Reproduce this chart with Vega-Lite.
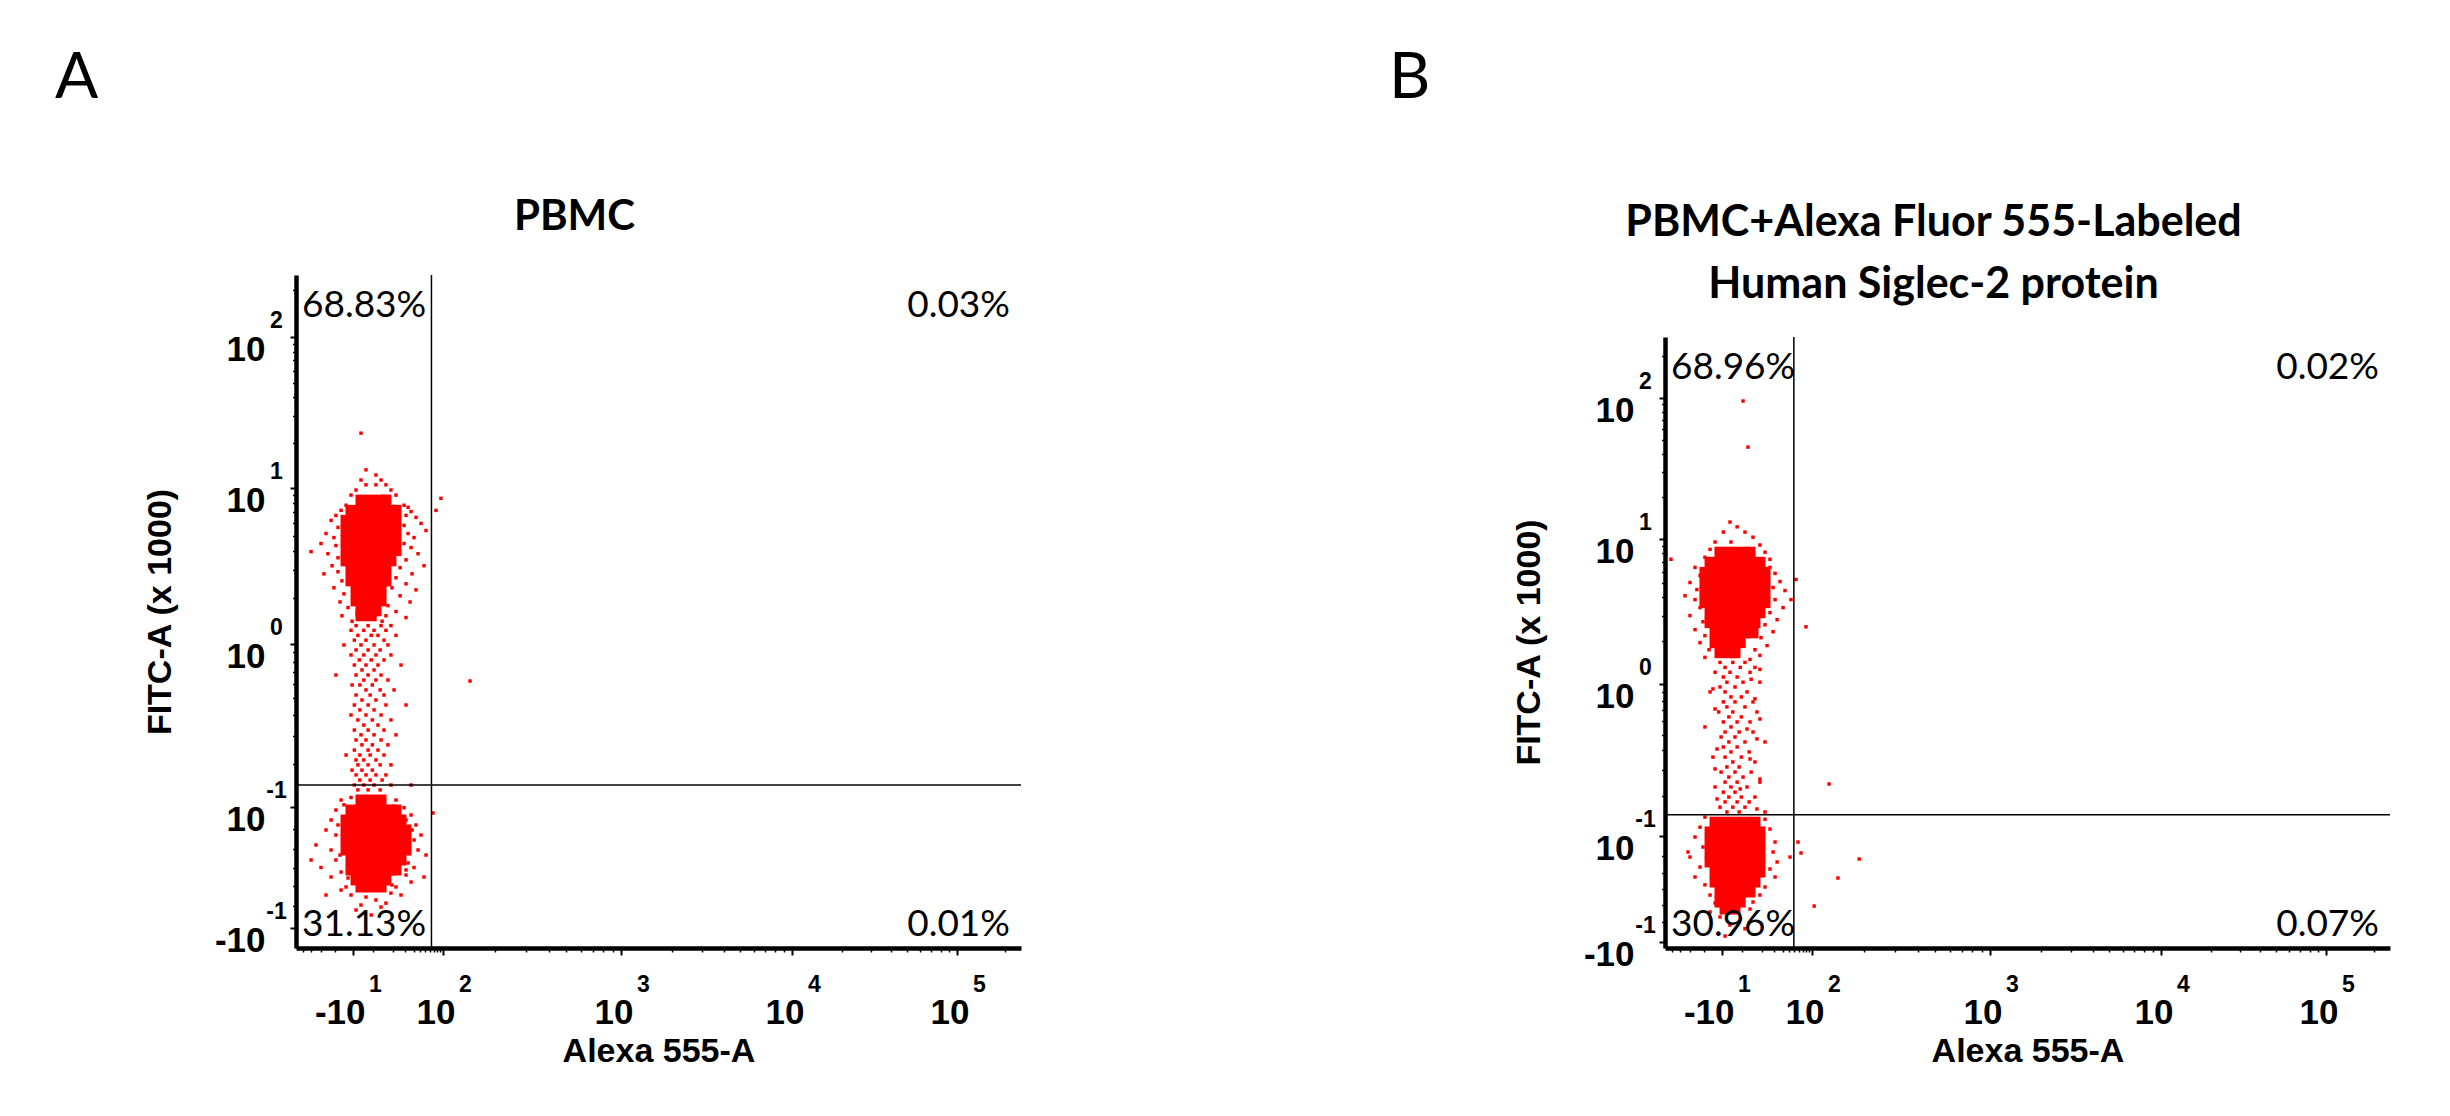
{
  "$schema": "https://vega.github.io/schema/vega-lite/v6.json",
  "description": "Flow cytometry dot plots of PBMC, FITC-A against Alexa 555-A, with quadrant gates and quadrant percentages.",
  "background": "white",
  "padding": {"left": 55, "top": 47, "right": 5, "bottom": 5},
  "spacing": 367,
  "config": {"view": {"stroke": null}, "axis": {"grid": false}},
  "datasets": {
    "coreA": [
      {"alexa":-5.2,"fitc":8.38},{"alexa":-0.7,"fitc":8.38},{"alexa":3.1,"fitc":8.38},{"alexa":5.5,"fitc":8.38},
      {"alexa":-10.9,"fitc":7.22},{"alexa":-5.2,"fitc":7.22},{"alexa":-0.7,"fitc":7.22},{"alexa":3.1,"fitc":7.22},{"alexa":8.4,"fitc":7.22},{"alexa":11.9,"fitc":7.22},
      {"alexa":-13.3,"fitc":6.24},{"alexa":-8,"fitc":6.24},{"alexa":-2.8,"fitc":6.24},{"alexa":1,"fitc":6.24},{"alexa":5.5,"fitc":6.24},{"alexa":11.9,"fitc":6.24},
      {"alexa":-13.3,"fitc":5.38},{"alexa":-8,"fitc":5.38},{"alexa":-2.8,"fitc":5.38},{"alexa":1,"fitc":5.38},{"alexa":5.5,"fitc":5.38},{"alexa":11.9,"fitc":5.38},
      {"alexa":-13.3,"fitc":4.65},{"alexa":-8,"fitc":4.65},{"alexa":-2.8,"fitc":4.65},{"alexa":1,"fitc":4.65},{"alexa":5.5,"fitc":4.65},{"alexa":11.9,"fitc":4.65},
      {"alexa":-13.3,"fitc":4.01},{"alexa":-8,"fitc":4.01},{"alexa":-2.8,"fitc":4.01},{"alexa":1,"fitc":4.01},{"alexa":5.5,"fitc":4.01},{"alexa":11.9,"fitc":4.01},
      {"alexa":-13.3,"fitc":3.45},{"alexa":-8,"fitc":3.45},{"alexa":-2.8,"fitc":3.45},{"alexa":1,"fitc":3.45},{"alexa":5.5,"fitc":3.45},{"alexa":8.4,"fitc":3.45},
      {"alexa":-10.9,"fitc":2.98},{"alexa":-5.2,"fitc":2.98},{"alexa":-0.7,"fitc":2.98},{"alexa":3.1,"fitc":2.98},{"alexa":5.5,"fitc":2.98},
      {"alexa":-10.9,"fitc":2.57},{"alexa":-5.2,"fitc":2.57},{"alexa":-0.7,"fitc":2.57},{"alexa":3.1,"fitc":2.57},{"alexa":5.5,"fitc":2.57},
      {"alexa":-8,"fitc":2.22},{"alexa":-2.8,"fitc":2.22},{"alexa":1,"fitc":2.22},{"alexa":3.1,"fitc":2.22},
      {"alexa":-8,"fitc":1.91},{"alexa":-2.8,"fitc":1.91},{"alexa":1,"fitc":1.91},{"alexa":3.1,"fitc":1.91},
      {"alexa":-5.2,"fitc":1.65},{"alexa":-0.7,"fitc":1.65},{"alexa":1,"fitc":1.65},
      {"alexa":-5.2,"fitc":1.53},{"alexa":-0.7,"fitc":1.53},
      {"alexa":-5.2,"fitc":0.113},{"alexa":-0.7,"fitc":0.113},{"alexa":3.1,"fitc":0.113},
      {"alexa":-10.9,"fitc":0.092},{"alexa":-5.2,"fitc":0.092},{"alexa":-0.7,"fitc":0.092},{"alexa":3.1,"fitc":0.092},{"alexa":8.4,"fitc":0.092},{"alexa":11.9,"fitc":0.092},
      {"alexa":-13.3,"fitc":0.0684},{"alexa":-8,"fitc":0.0684},{"alexa":-2.8,"fitc":0.0684},{"alexa":1,"fitc":0.0684},{"alexa":5.5,"fitc":0.0684},{"alexa":11.9,"fitc":0.0684},{"alexa":16,"fitc":0.0684},
      {"alexa":-13.3,"fitc":0.0488},{"alexa":-8,"fitc":0.0488},{"alexa":-2.8,"fitc":0.0488},{"alexa":1,"fitc":0.0488},{"alexa":5.5,"fitc":0.0488},{"alexa":11.9,"fitc":0.0488},{"alexa":20.9,"fitc":0.0488},
      {"alexa":-13.3,"fitc":0.0324},{"alexa":-8,"fitc":0.0324},{"alexa":-2.8,"fitc":0.0324},{"alexa":1,"fitc":0.0324},{"alexa":5.5,"fitc":0.0324},{"alexa":11.9,"fitc":0.0324},{"alexa":20.9,"fitc":0.0324},
      {"alexa":-13.3,"fitc":0.0187},{"alexa":-8,"fitc":0.0187},{"alexa":-2.8,"fitc":0.0187},{"alexa":1,"fitc":0.0187},{"alexa":5.5,"fitc":0.0187},{"alexa":11.9,"fitc":0.0187},{"alexa":20.9,"fitc":0.0187},
      {"alexa":-10.9,"fitc":0.0073},{"alexa":-5.2,"fitc":0.0073},{"alexa":-0.7,"fitc":0.0073},{"alexa":3.1,"fitc":0.0073},{"alexa":8.4,"fitc":0.0073},{"alexa":16,"fitc":0.0073},
      {"alexa":-10.9,"fitc":-0.0023},{"alexa":-5.2,"fitc":-0.0023},{"alexa":-0.7,"fitc":-0.0023},{"alexa":3.1,"fitc":-0.0023},{"alexa":8.4,"fitc":-0.0023},{"alexa":11.9,"fitc":-0.0023},
      {"alexa":-8,"fitc":-0.0127},{"alexa":-2.8,"fitc":-0.0127},{"alexa":1,"fitc":-0.0127},{"alexa":5.5,"fitc":-0.0127},
      {"alexa":-5.2,"fitc":-0.0212},{"alexa":-0.7,"fitc":-0.0212},{"alexa":3.1,"fitc":-0.0212}
    ],
    "scatterA": [
      {"alexa":-5.2,"fitc":23.1},{"alexa":-2.8,"fitc":13.2},{"alexa":1,"fitc":12.2},{"alexa":-5.2,"fitc":11.3},{"alexa":3.1,"fitc":11.3},{"alexa":-2.8,"fitc":10.5},{"alexa":5.5,"fitc":10.5},{"alexa":-8,"fitc":9.71},{"alexa":8.4,"fitc":9.71},{"alexa":1,"fitc":10.5},{"alexa":-10.9,"fitc":9.02},{"alexa":11.9,"fitc":9.02},{"alexa":-13.3,"fitc":7.78},{"alexa":18.9,"fitc":7.78},{"alexa":-16,"fitc":7.22},{"alexa":23.2,"fitc":7.55},
      {"alexa":-19.1,"fitc":6.71},{"alexa":-22.4,"fitc":6.24},{"alexa":-17.8,"fitc":5.63},{"alexa":-26.2,"fitc":5.15},{"alexa":-20.4,"fitc":4.85},{"alexa":-30.4,"fitc":4.45},{"alexa":-19.1,"fitc":4.32},{"alexa":-24.7,"fitc":3.83},{"alexa":-40.3,"fitc":3.95},{"alexa":-17.8,"fitc":3.61},{"alexa":-21.7,"fitc":3.21},{"alexa":-27.9,"fitc":2.85},{"alexa":-17.8,"fitc":2.94},{"alexa":-15.5,"fitc":2.57},{"alexa":-20.4,"fitc":2.32},{"alexa":-14.4,"fitc":2.12},{"alexa":-16.6,"fitc":1.88},{"alexa":-12.3,"fitc":1.73},{"alexa":-15.5,"fitc":1.53},{"alexa":-10.4,"fitc":1.41},
      {"alexa":20.9,"fitc":6.71},{"alexa":26.7,"fitc":7.1},{"alexa":33.5,"fitc":6.52},{"alexa":18.9,"fitc":5.8},{"alexa":41.7,"fitc":5.97},{"alexa":23.2,"fitc":5.15},{"alexa":30.7,"fitc":4.85},{"alexa":51.4,"fitc":5.38},{"alexa":18.9,"fitc":4.45},{"alexa":26.7,"fitc":4.19},{"alexa":36.7,"fitc":3.83},{"alexa":20.9,"fitc":3.5},{"alexa":47.3,"fitc":3.21},{"alexa":15.2,"fitc":3.12},{"alexa":28,"fitc":2.85},{"alexa":11.9,"fitc":2.69},{"alexa":20.9,"fitc":2.46},{"alexa":33.5,"fitc":2.25},{"alexa":9.1,"fitc":2.32},{"alexa":15.2,"fitc":2.06},{"alexa":25.5,"fitc":1.88},{"alexa":6.6,"fitc":1.78},{"alexa":11.9,"fitc":1.63},{"alexa":20.9,"fitc":1.49},{"alexa":5.5,"fitc":1.53},{"alexa":3.6,"fitc":1.41},
      {"alexa":92.5,"fitc":8.6},{"alexa":76.5,"fitc":7.22},
      {"alexa":-8,"fitc":1.32},{"alexa":-1.9,"fitc":1.32},{"alexa":3.1,"fitc":1.32},{"alexa":8.4,"fitc":1.32},
      {"alexa":-10.9,"fitc":1.23},{"alexa":-3.8,"fitc":1.23},{"alexa":0.3,"fitc":1.23},{"alexa":5.5,"fitc":1.23},
      {"alexa":-6.9,"fitc":1.14},{"alexa":-0.7,"fitc":1.14},{"alexa":1.8,"fitc":1.14},{"alexa":11.9,"fitc":1.14},
      {"alexa":-9.1,"fitc":1.06},{"alexa":-2.8,"fitc":1.06},{"alexa":4.5,"fitc":1.06},
      {"alexa":-5.2,"fitc":0.988},{"alexa":0.3,"fitc":0.988},{"alexa":6.6,"fitc":0.988},{"alexa":-14.4,"fitc":0.988},
      {"alexa":-8,"fitc":0.928},{"alexa":-1.9,"fitc":0.928},{"alexa":2.7,"fitc":0.928},
      {"alexa":-10.9,"fitc":0.871},{"alexa":-3.8,"fitc":0.871},{"alexa":1,"fitc":0.871},{"alexa":8.4,"fitc":0.871},
      {"alexa":-6.1,"fitc":0.818},{"alexa":-0.7,"fitc":0.818},{"alexa":4.5,"fitc":0.818},
      {"alexa":-9.1,"fitc":0.767},{"alexa":-2.8,"fitc":0.767},{"alexa":1.8,"fitc":0.767},{"alexa":16,"fitc":0.767},
      {"alexa":-4.7,"fitc":0.72},{"alexa":0.3,"fitc":0.72},
      {"alexa":-8,"fitc":0.675},{"alexa":-1.9,"fitc":0.675},{"alexa":3.1,"fitc":0.675},{"alexa":-19.1,"fitc":0.675},
      {"alexa":-3.8,"fitc":0.633},{"alexa":1,"fitc":0.633},{"alexa":6.6,"fitc":0.633},
      {"alexa":-10.4,"fitc":0.594},{"alexa":-5.8,"fitc":0.594},{"alexa":-0.3,"fitc":0.594},
      {"alexa":-2.8,"fitc":0.557},{"alexa":2.7,"fitc":0.557},{"alexa":10.5,"fitc":0.557},
      {"alexa":-8,"fitc":0.521},{"alexa":-1.1,"fitc":0.521},{"alexa":4.5,"fitc":0.521},
      {"alexa":-4.7,"fitc":0.488},{"alexa":1,"fitc":0.488},
      {"alexa":-9.1,"fitc":0.457},{"alexa":-1.9,"fitc":0.457},{"alexa":5.5,"fitc":0.457},{"alexa":20.9,"fitc":0.457},
      {"alexa":-5.8,"fitc":0.428},{"alexa":0.3,"fitc":0.428},
      {"alexa":-2.8,"fitc":0.4},{"alexa":3.1,"fitc":0.4},{"alexa":-10.9,"fitc":0.4},
      {"alexa":-6.9,"fitc":0.374},{"alexa":-0.3,"fitc":0.374},{"alexa":8.4,"fitc":0.374},
      {"alexa":-3.8,"fitc":0.349},{"alexa":1.8,"fitc":0.349},
      {"alexa":-9.1,"fitc":0.326},{"alexa":-1.9,"fitc":0.326},{"alexa":4.5,"fitc":0.326},
      {"alexa":-5.2,"fitc":0.305},{"alexa":0.3,"fitc":0.305},{"alexa":11.9,"fitc":0.305},
      {"alexa":-8,"fitc":0.284},{"alexa":-2.8,"fitc":0.284},{"alexa":3.1,"fitc":0.284},
      {"alexa":-4.7,"fitc":0.265},{"alexa":-0.3,"fitc":0.265},{"alexa":6.6,"fitc":0.265},
      {"alexa":-9.1,"fitc":0.246},{"alexa":-1.9,"fitc":0.246},{"alexa":1.8,"fitc":0.246},
      {"alexa":-5.8,"fitc":0.229},{"alexa":-1.1,"fitc":0.229},{"alexa":4.5,"fitc":0.229},{"alexa":-13.3,"fitc":0.229},
      {"alexa":-3.8,"fitc":0.213},{"alexa":1,"fitc":0.213},{"alexa":-8,"fitc":0.213},
      {"alexa":-6.9,"fitc":0.198},{"alexa":-1.9,"fitc":0.198},{"alexa":2.7,"fitc":0.198},{"alexa":8.4,"fitc":0.198},
      {"alexa":-4.7,"fitc":0.183},{"alexa":-0.3,"fitc":0.183},{"alexa":-10.4,"fitc":0.183},
      {"alexa":-8,"fitc":0.17},{"alexa":-2.8,"fitc":0.17},{"alexa":1,"fitc":0.17},{"alexa":5.5,"fitc":0.17},
      {"alexa":-5.8,"fitc":0.157},{"alexa":-1.1,"fitc":0.157},{"alexa":3.6,"fitc":0.157},
      {"alexa":-9.1,"fitc":0.145},{"alexa":-3.8,"fitc":0.145},{"alexa":0.3,"fitc":0.145},{"alexa":8.4,"fitc":0.145},{"alexa":26.7,"fitc":0.145},
      {"alexa":-6.9,"fitc":0.134},{"alexa":-1.9,"fitc":0.134},{"alexa":2.7,"fitc":0.134},
      {"alexa":144,"fitc":0.625},
      {"alexa":-16,"fitc":0.113},{"alexa":-10.9,"fitc":0.118},{"alexa":11.9,"fitc":0.113},{"alexa":-19.1,"fitc":0.092},{"alexa":18.9,"fitc":0.098},{"alexa":26.7,"fitc":0.0797},{"alexa":-22.4,"fitc":0.0684},{"alexa":33.5,"fitc":0.0582},{"alexa":-26.2,"fitc":0.0488},{"alexa":-19.1,"fitc":0.0402},{"alexa":41.7,"fitc":0.0402},{"alexa":30.7,"fitc":0.0324},{"alexa":-35.1,"fitc":0.0253},{"alexa":-22.4,"fitc":0.0187},{"alexa":36.7,"fitc":0.0187},{"alexa":51.4,"fitc":0.0127},{"alexa":-19.1,"fitc":0.0073},{"alexa":23.2,"fitc":0.0043},{"alexa":30.7,"fitc":0},{"alexa":-30.4,"fitc":0},{"alexa":-16,"fitc":-0.0043},{"alexa":20.9,"fitc":-0.0073},{"alexa":-22.4,"fitc":-0.0094},{"alexa":11.9,"fitc":-0.0212},{"alexa":26.7,"fitc":-0.0151},{"alexa":-13.3,"fitc":-0.0212},{"alexa":8.4,"fitc":-0.0296},{"alexa":-10.9,"fitc":-0.0324},{"alexa":-2.8,"fitc":-0.0355},{"alexa":1,"fitc":-0.0402},{"alexa":-5.2,"fitc":-0.0488},{"alexa":3.1,"fitc":-0.0525},{"alexa":-0.7,"fitc":-0.0685},{"alexa":47.3,"fitc":-0.0094},{"alexa":-40.3,"fitc":0.0073},{"alexa":68,"fitc":0.0845},{"alexa":-8,"fitc":-0.0582},{"alexa":5.5,"fitc":-0.0455},{"alexa":-16,"fitc":-0.0253},{"alexa":16,"fitc":-0.0324},{"alexa":-26.2,"fitc":-0.0324},{"alexa":-14.4,"fitc":0.104},{"alexa":20.9,"fitc":0.0684},{"alexa":-17.8,"fitc":0.0582},{"alexa":28,"fitc":0.0488},{"alexa":-16.6,"fitc":0.0127},{"alexa":20.9,"fitc":-0.0023},{"alexa":-12.3,"fitc":-0.0105},{"alexa":9.1,"fitc":-0.0187}
    ],
    "coreB": [
      {"alexa":-10.9,"fitc":8.13},{"alexa":-5.2,"fitc":8.13},{"alexa":-0.7,"fitc":8.13},{"alexa":3.1,"fitc":8.13},
      {"alexa":-16,"fitc":6.94},{"alexa":-10.9,"fitc":6.94},{"alexa":-5.2,"fitc":6.94},{"alexa":-0.7,"fitc":6.94},{"alexa":3.1,"fitc":6.94},{"alexa":8.4,"fitc":6.94},
      {"alexa":-19.1,"fitc":5.92},{"alexa":-13.3,"fitc":5.92},{"alexa":-8,"fitc":5.92},{"alexa":-2.8,"fitc":5.92},{"alexa":1,"fitc":5.92},{"alexa":5.5,"fitc":5.92},{"alexa":11.9,"fitc":5.92},
      {"alexa":-19.1,"fitc":5.05},{"alexa":-13.3,"fitc":5.05},{"alexa":-8,"fitc":5.05},{"alexa":-2.8,"fitc":5.05},{"alexa":1,"fitc":5.05},{"alexa":5.5,"fitc":5.05},{"alexa":11.9,"fitc":5.05},
      {"alexa":-19.1,"fitc":4.31},{"alexa":-13.3,"fitc":4.31},{"alexa":-8,"fitc":4.31},{"alexa":-2.8,"fitc":4.31},{"alexa":1,"fitc":4.31},{"alexa":5.5,"fitc":4.31},{"alexa":11.9,"fitc":4.31},
      {"alexa":-19.1,"fitc":3.68},{"alexa":-13.3,"fitc":3.68},{"alexa":-8,"fitc":3.68},{"alexa":-2.8,"fitc":3.68},{"alexa":1,"fitc":3.68},{"alexa":5.5,"fitc":3.68},{"alexa":11.9,"fitc":3.68},
      {"alexa":-16,"fitc":3.14},{"alexa":-10.9,"fitc":3.14},{"alexa":-5.2,"fitc":3.14},{"alexa":-0.7,"fitc":3.14},{"alexa":3.1,"fitc":3.14},{"alexa":8.4,"fitc":3.14},
      {"alexa":-16,"fitc":2.68},{"alexa":-10.9,"fitc":2.68},{"alexa":-5.2,"fitc":2.68},{"alexa":-0.7,"fitc":2.68},{"alexa":3.1,"fitc":2.68},{"alexa":5.5,"fitc":2.68},
      {"alexa":-13.3,"fitc":2.28},{"alexa":-8,"fitc":2.28},{"alexa":-2.8,"fitc":2.28},{"alexa":1,"fitc":2.28},{"alexa":4.5,"fitc":2.28},
      {"alexa":-13.3,"fitc":1.95},{"alexa":-8,"fitc":1.95},{"alexa":-2.8,"fitc":1.95},{"alexa":-0.7,"fitc":1.95},
      {"alexa":-10.9,"fitc":1.66},{"alexa":-5.2,"fitc":1.66},{"alexa":-2.8,"fitc":1.66},
      {"alexa":-13.3,"fitc":0.129},{"alexa":-8,"fitc":0.129},{"alexa":-2.8,"fitc":0.129},{"alexa":1,"fitc":0.129},{"alexa":5.5,"fitc":0.129},
      {"alexa":-16,"fitc":0.108},{"alexa":-10.9,"fitc":0.108},{"alexa":-5.2,"fitc":0.108},{"alexa":-0.7,"fitc":0.108},{"alexa":3.1,"fitc":0.108},{"alexa":8.4,"fitc":0.108},
      {"alexa":-16,"fitc":0.0824},{"alexa":-10.9,"fitc":0.0824},{"alexa":-5.2,"fitc":0.0824},{"alexa":-0.7,"fitc":0.0824},{"alexa":3.1,"fitc":0.0824},{"alexa":8.4,"fitc":0.0824},
      {"alexa":-16,"fitc":0.0577},{"alexa":-10.9,"fitc":0.0577},{"alexa":-5.2,"fitc":0.0577},{"alexa":-0.7,"fitc":0.0577},{"alexa":3.1,"fitc":0.0577},{"alexa":8.4,"fitc":0.0577},
      {"alexa":-16,"fitc":0.0375},{"alexa":-10.9,"fitc":0.0375},{"alexa":-5.2,"fitc":0.0375},{"alexa":-0.7,"fitc":0.0375},{"alexa":3.1,"fitc":0.0375},{"alexa":8.4,"fitc":0.0375},
      {"alexa":-13.3,"fitc":0.0211},{"alexa":-8,"fitc":0.0211},{"alexa":-2.8,"fitc":0.0211},{"alexa":1,"fitc":0.0211},{"alexa":5.5,"fitc":0.0211},{"alexa":8.4,"fitc":0.0211},
      {"alexa":-13.3,"fitc":0.0078},{"alexa":-8,"fitc":0.0078},{"alexa":-2.8,"fitc":0.0078},{"alexa":1,"fitc":0.0078},{"alexa":5.5,"fitc":0.0078},
      {"alexa":-10.9,"fitc":-0.0032},{"alexa":-5.2,"fitc":-0.0032},{"alexa":-0.7,"fitc":-0.0032},{"alexa":3.1,"fitc":-0.0032},
      {"alexa":-10.9,"fitc":-0.0155},{"alexa":-5.2,"fitc":-0.0155},{"alexa":-0.7,"fitc":-0.0155},
      {"alexa":-8,"fitc":-0.0258},{"alexa":-2.8,"fitc":-0.0258}
    ],
    "scatterB": [
      {"alexa":0.3,"fitc":95.2},{"alexa":2.2,"fitc":44.9},{"alexa":-5.2,"fitc":13.2},{"alexa":-1.9,"fitc":12.2},{"alexa":-9.1,"fitc":11.2},{"alexa":1,"fitc":11.2},{"alexa":4.5,"fitc":10.3},{"alexa":-13.3,"fitc":9.54},{"alexa":-4.7,"fitc":9.54},{"alexa":8.4,"fitc":9.1},{"alexa":-16,"fitc":8.5},{"alexa":11.9,"fitc":8.13},{"alexa":-19.1,"fitc":7.51},{"alexa":16,"fitc":7.28},
      {"alexa":-26.2,"fitc":6.41},{"alexa":-22.4,"fitc":5.65},{"alexa":-30.4,"fitc":5.05},{"alexa":-24.7,"fitc":4.52},{"alexa":-35.1,"fitc":4.1},{"alexa":-26.2,"fitc":3.86},{"alexa":-22.4,"fitc":3.4},{"alexa":-30.4,"fitc":3},{"alexa":-20.4,"fitc":2.72},{"alexa":-26.2,"fitc":2.4},{"alexa":-19.1,"fitc":2.18},{"alexa":-22.4,"fitc":1.95},{"alexa":-16.6,"fitc":1.74},{"alexa":-19.1,"fitc":1.54},{"alexa":-51.4,"fitc":7.28},
      {"alexa":16,"fitc":6.41},{"alexa":20.9,"fitc":5.83},{"alexa":26.7,"fitc":5.13},{"alexa":18.9,"fitc":4.67},{"alexa":33.5,"fitc":4.45},{"alexa":20.9,"fitc":3.86},{"alexa":30.7,"fitc":3.4},{"alexa":16,"fitc":3.14},{"alexa":23.2,"fitc":2.81},{"alexa":11.9,"fitc":2.59},{"alexa":18.9,"fitc":2.32},{"alexa":9.1,"fitc":2.11},{"alexa":13.5,"fitc":1.86},{"alexa":5.5,"fitc":1.74},{"alexa":8.4,"fitc":1.59},{"alexa":3.1,"fitc":1.49},{"alexa":53.5,"fitc":5.3},{"alexa":43.5,"fitc":3.86},{"alexa":79.5,"fitc":2.51},
      {"alexa":-10.9,"fitc":1.42},{"alexa":-3.8,"fitc":1.42},{"alexa":1,"fitc":1.42},
      {"alexa":-8,"fitc":1.31},{"alexa":-0.7,"fitc":1.31},{"alexa":5.5,"fitc":1.31},{"alexa":8.4,"fitc":1.27},
      {"alexa":-13.3,"fitc":1.21},{"alexa":-5.2,"fitc":1.21},{"alexa":3.1,"fitc":1.21},
      {"alexa":-9.1,"fitc":1.12},{"alexa":-1.9,"fitc":1.12},{"alexa":3.6,"fitc":1.08},
      {"alexa":-6.9,"fitc":1.03},{"alexa":0.3,"fitc":1.03},{"alexa":8.4,"fitc":1.03},
      {"alexa":-10.9,"fitc":0.961},{"alexa":-2.8,"fitc":0.961},{"alexa":-14.4,"fitc":0.936},
      {"alexa":-8,"fitc":0.899},{"alexa":1.8,"fitc":0.899},{"alexa":-16,"fitc":0.899},
      {"alexa":-4.7,"fitc":0.84},{"alexa":-0.3,"fitc":0.84},{"alexa":5.5,"fitc":0.818},
      {"alexa":-9.1,"fitc":0.785},{"alexa":-2.8,"fitc":0.785},{"alexa":4.5,"fitc":0.785},
      {"alexa":-6.9,"fitc":0.733},{"alexa":1,"fitc":0.733},{"alexa":-13.3,"fitc":0.713},
      {"alexa":-11.5,"fitc":0.684},{"alexa":-3.8,"fitc":0.684},{"alexa":6.6,"fitc":0.684},
      {"alexa":-5.8,"fitc":0.639},{"alexa":-0.3,"fitc":0.639},{"alexa":8.4,"fitc":0.621},
      {"alexa":-9.1,"fitc":0.596},{"alexa":-1.9,"fitc":0.596},{"alexa":3.1,"fitc":0.596},
      {"alexa":-4.7,"fitc":0.556},{"alexa":-19.1,"fitc":0.556},{"alexa":1.8,"fitc":0.54},
      {"alexa":-8,"fitc":0.518},{"alexa":-1.1,"fitc":0.518},{"alexa":4.5,"fitc":0.518},
      {"alexa":-10.4,"fitc":0.483},{"alexa":-2.8,"fitc":0.483},{"alexa":6.6,"fitc":0.47},
      {"alexa":-5.8,"fitc":0.45},{"alexa":1,"fitc":0.45},{"alexa":11.9,"fitc":0.45},
      {"alexa":-9.1,"fitc":0.419},{"alexa":-1.9,"fitc":0.419},{"alexa":-12.3,"fitc":0.407},
      {"alexa":-4.7,"fitc":0.39},{"alexa":2.7,"fitc":0.39},
      {"alexa":-8,"fitc":0.362},{"alexa":-0.3,"fitc":0.362},{"alexa":-14.4,"fitc":0.362},{"alexa":3.1,"fitc":0.352},
      {"alexa":-3.8,"fitc":0.337},{"alexa":5.5,"fitc":0.337},
      {"alexa":-6.9,"fitc":0.313},{"alexa":-1.1,"fitc":0.313},{"alexa":-13.3,"fitc":0.304},
      {"alexa":-10.4,"fitc":0.29},{"alexa":-2.8,"fitc":0.29},{"alexa":3.6,"fitc":0.29},
      {"alexa":-5.8,"fitc":0.269},{"alexa":0.3,"fitc":0.269},{"alexa":8.4,"fitc":0.261},
      {"alexa":-8,"fitc":0.249},{"alexa":-1.9,"fitc":0.249},{"alexa":8.4,"fitc":0.249},
      {"alexa":-4.7,"fitc":0.231},{"alexa":1.8,"fitc":0.231},{"alexa":-13.3,"fitc":0.231},{"alexa":-0.7,"fitc":0.224},
      {"alexa":-9.1,"fitc":0.213},{"alexa":-2.8,"fitc":0.213},
      {"alexa":-5.8,"fitc":0.197},{"alexa":-0.3,"fitc":0.197},{"alexa":5.5,"fitc":0.197},{"alexa":-12.3,"fitc":0.191},
      {"alexa":-8,"fitc":0.182},{"alexa":-1.9,"fitc":0.182},{"alexa":2.7,"fitc":0.182},
      {"alexa":-10.9,"fitc":0.167},{"alexa":-3.8,"fitc":0.167},{"alexa":1,"fitc":0.167},{"alexa":6.6,"fitc":0.162},
      {"alexa":-6.9,"fitc":0.154},{"alexa":-1.1,"fitc":0.154},{"alexa":11.9,"fitc":0.154},
      {"alexa":-19.1,"fitc":0.141},{"alexa":11.9,"fitc":0.136},{"alexa":-22.4,"fitc":0.118},{"alexa":16,"fitc":0.114},{"alexa":-26.2,"fitc":0.0969},{"alexa":20.9,"fitc":0.0824},{"alexa":-20.4,"fitc":0.0694},{"alexa":18.9,"fitc":0.0577},{"alexa":-30.4,"fitc":0.047},{"alexa":23.2,"fitc":0.0375},{"alexa":-22.4,"fitc":0.0288},{"alexa":16,"fitc":0.0257},{"alexa":-26.2,"fitc":0.0141},{"alexa":20.9,"fitc":0.0141},{"alexa":-19.1,"fitc":0.0045},{"alexa":11.9,"fitc":0.0021},{"alexa":-16,"fitc":-0.0067},{"alexa":8.4,"fitc":-0.0067},{"alexa":-13.3,"fitc":-0.0169},{"alexa":4.5,"fitc":-0.0155},{"alexa":-16,"fitc":-0.0305},{"alexa":3.1,"fitc":-0.0258},{"alexa":-10.9,"fitc":-0.0393},{"alexa":-0.7,"fitc":-0.043},{"alexa":-5.2,"fitc":-0.0555},{"alexa":1,"fitc":-0.064},{"alexa":-8,"fitc":-0.0825},{"alexa":-32.2,"fitc":0.0577},{"alexa":41.7,"fitc":0.047},
      {"alexa":58,"fitc":0.0824},{"alexa":126,"fitc":0.242},{"alexa":188,"fitc":0.0431},{"alexa":142,"fitc":0.0128},{"alexa":103,"fitc":-0.0212},{"alexa":65.4,"fitc":0.0554}
    ],
    "gates": [
      {"panel":"A","alexa":64,"fitc":0.145},
      {"panel":"B","alexa":49,"fitc":0.147}
    ],
    "quadrants": [
      {"panel":"A","quadrant":"UL","share":0.6883},{"panel":"A","quadrant":"UR","share":0.0003},
      {"panel":"A","quadrant":"LL","share":0.3113},{"panel":"A","quadrant":"LR","share":0.0001},
      {"panel":"B","quadrant":"UL","share":0.6896},{"panel":"B","quadrant":"UR","share":0.0002},
      {"panel":"B","quadrant":"LL","share":0.3096},{"panel":"B","quadrant":"LR","share":0.0007}
    ]
  },
  "resolve": {"scale": {"x": "independent", "y": "independent"}},
  "hconcat": [
    {
      "width": 725,
      "height": 673,
      "title": {"text": "A", "anchor": "start", "frame": "group", "dx": -241, "offset": 33, "baseline": "alphabetic", "font": "Lato", "fontSize": 64, "fontWeight": "normal", "color": "#000"},
      "resolve": {"axis": {"x": "independent", "y": "independent"}},
      "layer": [
        {
          "data": {"name": "scatterA"},
          "mark": {"type": "square", "size": 12, "color": "#ff0000", "opacity": 1},
          "encoding": {
            "x": {"field": "alexa", "type": "quantitative",
              "scale": {"type": "symlog", "constant": 10, "domain": [-60, -10, 100, 1000, 10000, 100000, 250000], "range": [0, 57, 147, 325, 496, 661, 725], "nice": false, "zero": false},
              "axis": {"orient": "bottom", "values": [-10, 100, 1000, 10000, 100000], "labelExpr": "datum.value < 0 ? '-10' : '10'", "labelFont": "Liberation Sans", "labelFontWeight": "bold", "labelFontSize": 35, "labelColor": "#000", "labelAlign": "right", "labelBaseline": "middle", "labelOffset": 12, "labelPadding": 57, "labelOverlap": false, "labelFlush": false, "labelBound": false, "tickSize": 7, "tickWidth": 2, "tickColor": "#000", "domainColor": "#000", "domainWidth": 4.5, "grid": false, "title": "Alexa 555-A", "titleFont": "Liberation Sans", "titleFontWeight": "bold", "titleFontSize": 34, "titleColor": "#000", "titleY": 103, "titleBaseline": "middle"}},
            "y": {"field": "fitc", "type": "quantitative",
              "scale": {"type": "symlog", "constant": 0.05, "domain": [-0.166, -0.1, 0.1, 1, 10, 100, 250], "range": [673, 653, 532, 369, 213, 62, 0], "nice": false, "zero": false},
              "axis": {"orient": "left", "values": [-0.1, 0.1, 1, 10, 100], "labelExpr": "datum.value < 0 ? '-10' : '10'", "labelFont": "Liberation Sans", "labelFontWeight": "bold", "labelFontSize": 35, "labelColor": "#000", "labelAlign": "right", "labelBaseline": "middle", "labelOffset": 12, "labelPadding": 25, "labelOverlap": false, "labelFlush": false, "labelBound": false, "tickSize": 6, "tickWidth": 2, "tickColor": "#000", "domainColor": "#000", "domainWidth": 4.5, "grid": false, "title": "FITC-A (x 1000)", "titleFont": "Liberation Sans", "titleFontWeight": "bold", "titleFontSize": 34, "titleColor": "#000", "titleX": -136, "titleBaseline": "middle", "titleAngle": 270}}
          }
        },
        {
          "data": {"name": "coreA"},
          "mark": {"type": "square", "size": 121, "color": "#ff0000", "opacity": 1},
          "encoding": {
            "x": {"field": "alexa", "type": "quantitative",
              "axis": {"orient": "bottom", "values": [-10, 100, 1000, 10000, 100000], "labelExpr": "datum.value < 0 ? '1' : datum.value < 500 ? '2' : datum.value < 5000 ? '3' : datum.value < 50000 ? '4' : '5'", "labelFont": "Liberation Sans", "labelFontWeight": "bold", "labelFontSize": 23, "labelColor": "#000", "labelAlign": "center", "labelBaseline": "middle", "labelOffset": 22, "labelPadding": 36, "labelOverlap": false, "labelFlush": false, "labelBound": false, "ticks": false, "tickSize": 0, "domain": false, "grid": false, "title": null}},
            "y": {"field": "fitc", "type": "quantitative",
              "axis": {"orient": "left", "values": [-0.1, 0.1, 1, 10, 100], "labelExpr": "datum.value >= 50 ? '2' : datum.value >= 5 ? '1' : datum.value >= 0.5 ? '0' : '-1'", "labelFont": "Liberation Sans", "labelFontWeight": "bold", "labelFontSize": 23, "labelColor": "#000", "labelAlign": "center", "labelBaseline": "middle", "labelOffset": -17, "labelPadding": 20, "labelOverlap": false, "labelFlush": false, "labelBound": false, "ticks": false, "tickSize": 0, "domain": false, "grid": false, "title": null}}
          }
        },
        {
          "data": {"name": "gates"},
          "transform": [{"filter": "datum.panel === 'A'"}],
          "mark": {"type": "rule", "color": "#000", "strokeWidth": 1.5},
          "encoding": {
            "x": {"field": "alexa", "type": "quantitative",
              "axis": {"orient": "bottom", "values": [-50, -40, -30, -20, 0, 10, 20, 30, 40, 50, 60, 70, 80, 90, 200, 300, 400, 500, 600, 700, 800, 900, 2000, 3000, 4000, 5000, 6000, 7000, 8000, 9000, 20000, 30000, 40000, 50000, 60000, 70000, 80000, 90000, 200000], "labels": false, "tickSize": 4, "tickWidth": 1.5, "tickColor": "#000", "domain": false, "grid": false, "title": null}}
          }
        },
        {
          "data": {"name": "gates"},
          "transform": [{"filter": "datum.panel === 'A'"}],
          "mark": {"type": "rule", "color": "#000", "strokeWidth": 1.5},
          "encoding": {
            "y": {"field": "fitc", "type": "quantitative",
              "axis": {"orient": "left", "values": [-0.05, -0.02, 0, 0.02, 0.05, 0.2, 0.3, 0.4, 0.5, 0.6, 0.7, 0.8, 0.9, 2, 3, 4, 5, 6, 7, 8, 9, 20, 30, 40, 50, 60, 70, 80, 90, 200], "labels": false, "tickSize": 3.5, "tickWidth": 1.5, "tickColor": "#000", "domain": false, "grid": false, "title": null}}
          }
        },
        {
          "data": {"name": "quadrants"},
          "transform": [{"filter": "datum.panel === 'A' && datum.quadrant === 'UL'"}],
          "mark": {"type": "text", "align": "left", "baseline": "middle", "dx": 6, "font": "Lato", "fontSize": 37, "color": "#000"},
          "encoding": {
            "x": {"datum": -60, "type": "quantitative",
              "axis": {"orient": "top", "title": "PBMC", "labels": false, "ticks": false, "domain": false, "grid": false, "titleX": 278, "titleY": -59, "titleAlign": "center", "titleBaseline": "middle", "titleAngle": 0, "titleFont": "Lato", "titleFontSize": 42, "titleFontWeight": "bold", "titleColor": "#000", "titlePadding": 0}},
            "y": {"datum": 158, "type": "quantitative", "axis": null},
            "text": {"field": "share", "type": "quantitative", "format": ".2%"}
          }
        },
        {
          "data": {"name": "quadrants"},
          "transform": [{"filter": "datum.panel === 'A' && datum.quadrant === 'UR'"}],
          "mark": {"type": "text", "align": "right", "baseline": "middle", "dx": -11, "font": "Lato", "fontSize": 37, "color": "#000"},
          "encoding": {
            "x": {"datum": 250000, "type": "quantitative", "axis": null},
            "y": {"datum": 158, "type": "quantitative", "axis": null},
            "text": {"field": "share", "type": "quantitative", "format": ".2%"}
          }
        },
        {
          "data": {"name": "quadrants"},
          "transform": [{"filter": "datum.panel === 'A' && datum.quadrant === 'LL'"}],
          "mark": {"type": "text", "align": "left", "baseline": "middle", "dx": 6, "font": "Lato", "fontSize": 37, "color": "#000"},
          "encoding": {
            "x": {"datum": -60, "type": "quantitative", "axis": null},
            "y": {"datum": -0.092, "type": "quantitative", "axis": null},
            "text": {"field": "share", "type": "quantitative", "format": ".2%"}
          }
        },
        {
          "data": {"name": "quadrants"},
          "transform": [{"filter": "datum.panel === 'A' && datum.quadrant === 'LR'"}],
          "mark": {"type": "text", "align": "right", "baseline": "middle", "dx": -11, "font": "Lato", "fontSize": 37, "color": "#000"},
          "encoding": {
            "x": {"datum": 250000, "type": "quantitative", "axis": null},
            "y": {"datum": -0.092, "type": "quantitative", "axis": null},
            "text": {"field": "share", "type": "quantitative", "format": ".2%"}
          }
        }
      ]
    },
    {
      "width": 725,
      "height": 673,
      "title": {"text": "B", "anchor": "start", "frame": "group", "dx": -276, "offset": 39, "baseline": "alphabetic", "font": "Lato", "fontSize": 64, "fontWeight": "normal", "color": "#000"},
      "resolve": {"axis": {"x": "independent", "y": "independent"}},
      "layer": [
        {
          "data": {"name": "scatterB"},
          "mark": {"type": "square", "size": 12, "color": "#ff0000", "opacity": 1},
          "encoding": {
            "x": {"field": "alexa", "type": "quantitative",
              "scale": {"type": "symlog", "constant": 10, "domain": [-60, -10, 100, 1000, 10000, 100000, 250000], "range": [0, 57, 147, 325, 496, 661, 725], "nice": false, "zero": false},
              "axis": {"orient": "bottom", "values": [-10, 100, 1000, 10000, 100000], "labelExpr": "datum.value < 0 ? '-10' : '10'", "labelFont": "Liberation Sans", "labelFontWeight": "bold", "labelFontSize": 35, "labelColor": "#000", "labelAlign": "right", "labelBaseline": "middle", "labelOffset": 12, "labelPadding": 57, "labelOverlap": false, "labelFlush": false, "labelBound": false, "tickSize": 7, "tickWidth": 2, "tickColor": "#000", "domainColor": "#000", "domainWidth": 4.5, "grid": false, "title": "Alexa 555-A", "titleFont": "Liberation Sans", "titleFontWeight": "bold", "titleFontSize": 34, "titleColor": "#000", "titleY": 103, "titleBaseline": "middle"}},
            "y": {"field": "fitc", "type": "quantitative",
              "scale": {"type": "symlog", "constant": 0.05, "domain": [-0.12, -0.1, 0.1, 1, 10, 100, 271], "range": [673, 667, 561, 409, 264, 123, 62], "nice": false, "zero": false},
              "axis": {"orient": "left", "values": [-0.1, 0.1, 1, 10, 100], "labelExpr": "datum.value < 0 ? '-10' : '10'", "labelFont": "Liberation Sans", "labelFontWeight": "bold", "labelFontSize": 35, "labelColor": "#000", "labelAlign": "right", "labelBaseline": "middle", "labelOffset": 12, "labelPadding": 25, "labelOverlap": false, "labelFlush": false, "labelBound": false, "tickSize": 6, "tickWidth": 2, "tickColor": "#000", "domainColor": "#000", "domainWidth": 4.5, "grid": false, "title": "FITC-A (x 1000)", "titleFont": "Liberation Sans", "titleFontWeight": "bold", "titleFontSize": 34, "titleColor": "#000", "titleX": -136, "titleY": 367, "titleBaseline": "middle", "titleAngle": 270}}
          }
        },
        {
          "data": {"name": "coreB"},
          "mark": {"type": "square", "size": 121, "color": "#ff0000", "opacity": 1},
          "encoding": {
            "x": {"field": "alexa", "type": "quantitative",
              "axis": {"orient": "bottom", "values": [-10, 100, 1000, 10000, 100000], "labelExpr": "datum.value < 0 ? '1' : datum.value < 500 ? '2' : datum.value < 5000 ? '3' : datum.value < 50000 ? '4' : '5'", "labelFont": "Liberation Sans", "labelFontWeight": "bold", "labelFontSize": 23, "labelColor": "#000", "labelAlign": "center", "labelBaseline": "middle", "labelOffset": 22, "labelPadding": 36, "labelOverlap": false, "labelFlush": false, "labelBound": false, "ticks": false, "tickSize": 0, "domain": false, "grid": false, "title": null}},
            "y": {"field": "fitc", "type": "quantitative",
              "axis": {"orient": "left", "values": [-0.1, 0.1, 1, 10, 100], "labelExpr": "datum.value >= 50 ? '2' : datum.value >= 5 ? '1' : datum.value >= 0.5 ? '0' : '-1'", "labelFont": "Liberation Sans", "labelFontWeight": "bold", "labelFontSize": 23, "labelColor": "#000", "labelAlign": "center", "labelBaseline": "middle", "labelOffset": -17, "labelPadding": 20, "labelOverlap": false, "labelFlush": false, "labelBound": false, "ticks": false, "tickSize": 0, "domain": false, "grid": false, "title": null}}
          }
        },
        {
          "data": {"name": "gates"},
          "transform": [{"filter": "datum.panel === 'B'"}],
          "mark": {"type": "rule", "color": "#000", "strokeWidth": 1.5},
          "encoding": {
            "x": {"field": "alexa", "type": "quantitative",
              "axis": {"orient": "bottom", "values": [-50, -40, -30, -20, 0, 10, 20, 30, 40, 50, 60, 70, 80, 90, 200, 300, 400, 500, 600, 700, 800, 900, 2000, 3000, 4000, 5000, 6000, 7000, 8000, 9000, 20000, 30000, 40000, 50000, 60000, 70000, 80000, 90000, 200000], "labels": false, "tickSize": 4, "tickWidth": 1.5, "tickColor": "#000", "domain": false, "grid": false, "title": null}},
            "y": {"datum": -0.12, "type": "quantitative", "axis": null},
            "y2": {"datum": 271}
          }
        },
        {
          "data": {"name": "gates"},
          "transform": [{"filter": "datum.panel === 'B'"}],
          "mark": {"type": "rule", "color": "#000", "strokeWidth": 1.5},
          "encoding": {
            "y": {"field": "fitc", "type": "quantitative",
              "axis": {"orient": "left", "values": [-0.05, -0.02, 0, 0.02, 0.05, 0.2, 0.3, 0.4, 0.5, 0.6, 0.7, 0.8, 0.9, 2, 3, 4, 5, 6, 7, 8, 9, 20, 30, 40, 50, 60, 70, 80, 90, 200], "labels": false, "tickSize": 3.5, "tickWidth": 1.5, "tickColor": "#000", "domain": false, "grid": false, "title": null}}
          }
        },
        {
          "data": {"name": "quadrants"},
          "transform": [{"filter": "datum.panel === 'B' && datum.quadrant === 'UL'"}],
          "mark": {"type": "text", "align": "left", "baseline": "middle", "dx": 6, "font": "Lato", "fontSize": 37, "color": "#000"},
          "encoding": {
            "x": {"datum": -60, "type": "quantitative",
              "axis": {"orient": "top", "title": ["PBMC+Alexa Fluor 555-Labeled", "Human Siglec-2 protein"], "labels": false, "ticks": false, "domain": false, "grid": false, "titleX": 268, "titleY": -53, "titleAlign": "center", "titleBaseline": "middle", "titleAngle": 0, "titleLineHeight": 62, "titleFont": "Lato", "titleFontSize": 43, "titleFontWeight": "bold", "titleColor": "#000", "titlePadding": 0}},
            "y": {"datum": 163, "type": "quantitative", "axis": null},
            "text": {"field": "share", "type": "quantitative", "format": ".2%"}
          }
        },
        {
          "data": {"name": "quadrants"},
          "transform": [{"filter": "datum.panel === 'B' && datum.quadrant === 'UR'"}],
          "mark": {"type": "text", "align": "right", "baseline": "middle", "dx": -11, "font": "Lato", "fontSize": 37, "color": "#000"},
          "encoding": {
            "x": {"datum": 250000, "type": "quantitative", "axis": null},
            "y": {"datum": 163, "type": "quantitative", "axis": null},
            "text": {"field": "share", "type": "quantitative", "format": ".2%"}
          }
        },
        {
          "data": {"name": "quadrants"},
          "transform": [{"filter": "datum.panel === 'B' && datum.quadrant === 'LL'"}],
          "mark": {"type": "text", "align": "left", "baseline": "middle", "dx": 6, "font": "Lato", "fontSize": 37, "color": "#000"},
          "encoding": {
            "x": {"datum": -60, "type": "quantitative", "axis": null},
            "y": {"datum": -0.0555, "type": "quantitative", "axis": null},
            "text": {"field": "share", "type": "quantitative", "format": ".2%"}
          }
        },
        {
          "data": {"name": "quadrants"},
          "transform": [{"filter": "datum.panel === 'B' && datum.quadrant === 'LR'"}],
          "mark": {"type": "text", "align": "right", "baseline": "middle", "dx": -11, "font": "Lato", "fontSize": 37, "color": "#000"},
          "encoding": {
            "x": {"datum": 250000, "type": "quantitative", "axis": null},
            "y": {"datum": -0.0555, "type": "quantitative", "axis": null},
            "text": {"field": "share", "type": "quantitative", "format": ".2%"}
          }
        }
      ]
    }
  ]
}
